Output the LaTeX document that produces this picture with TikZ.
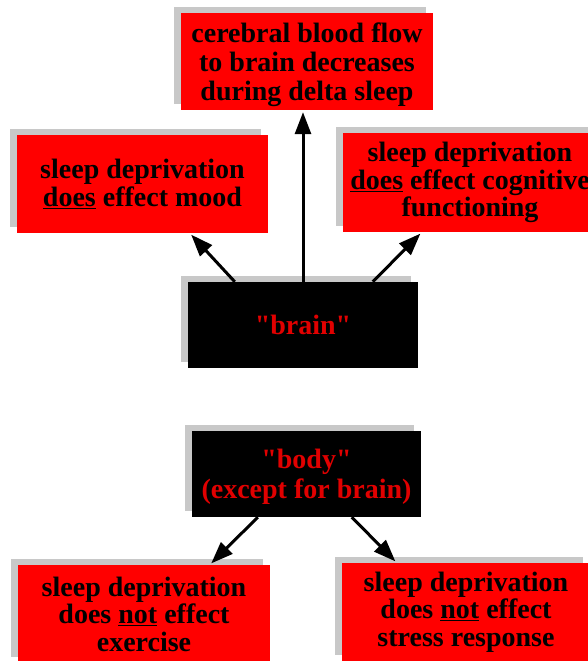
\documentclass[tikz,border=0pt]{standalone}
\usepackage{fontspec}
\setmainfont{Liberation Serif}
\usetikzlibrary{shadows,arrows.meta,calc}
\definecolor{boxred}{RGB}{255,0,0}
\definecolor{txtred}{RGB}{225,0,0}
\definecolor{shadowgray}{RGB}{200,200,200}
\tikzset{
  base/.style={inner sep=0pt, align=center, font=\bfseries\fontsize{28}{27.5}\selectfont,
    drop shadow={shadow xshift=-7pt, shadow yshift=6pt, fill=shadowgray, opacity=1}},
  redbox/.style={base, fill=boxred, text=black},
  blackbox/.style={base, fill=black, text=txtred, font=\bfseries\fontsize{28}{30}\selectfont},
  arr/.style={line width=3pt, shorten >=2pt, -{Triangle[length=22pt,width=16pt]}}
}
\begin{document}
\begin{tikzpicture}[x=1pt,y=1pt]
\useasboundingbox (0,0) rectangle (588,661);
\node[redbox, minimum width=252pt, minimum height=97pt, font=\bfseries\fontsize{28}{29}\selectfont] (top) at (307,599.5)
  {\rule{0pt}{27pt}cerebral blood flow\\to brain decreases\\during delta sleep};
\node[redbox, minimum width=251pt, minimum height=98pt] (ml) at (142.5,477)
  {sleep deprivation\\\underline{does} effect mood};
\node[redbox, minimum width=254pt, minimum height=99pt] (mr) at (470,478.5)
  {sleep deprivation\\\underline{does} effect cognitive\\functioning};
\node[blackbox, minimum width=230pt, minimum height=86pt] (brain) at (303,336)
  {\textquotedbl brain\textquotedbl};
\node[blackbox, minimum width=229pt, minimum height=86pt] (body) at (306.5,187)
  {\rule{0pt}{25pt}\textquotedbl body\textquotedbl\\(except for brain)};
\node[redbox, minimum width=252pt, minimum height=98pt] (bl) at (144,47)
  {sleep deprivation\\does \underline{not} effect\\exercise};
\node[redbox, minimum width=248pt, minimum height=98pt] (br) at (466,49)
  {sleep deprivation\\does \underline{not} effect\\stress response};
\coordinate (s1) at ($(brain.north west)+(47,0)$);
\coordinate (e1) at ($(ml.south west)+(173,0)$);
\coordinate (s2) at ($(brain.north west)+(185,0)$);
\coordinate (e2) at ($(mr.south west)+(79,0)$);
\coordinate (s3) at ($(body.south west)+(66,0)$);
\coordinate (e3) at ($(bl.north west)+(192,0)$);
\coordinate (s4) at ($(body.south west)+(160,0)$);
\coordinate (e4) at ($(br.north west)+(55,0)$);
\draw[arr] (brain.north) -- (brain.north |- top.south);
\draw[arr] (s1) -- (e1);
\draw[arr] (s2) -- (e2);
\draw[arr] (s3) -- (e3);
\draw[arr] (s4) -- (e4);
\end{tikzpicture}
\end{document}
